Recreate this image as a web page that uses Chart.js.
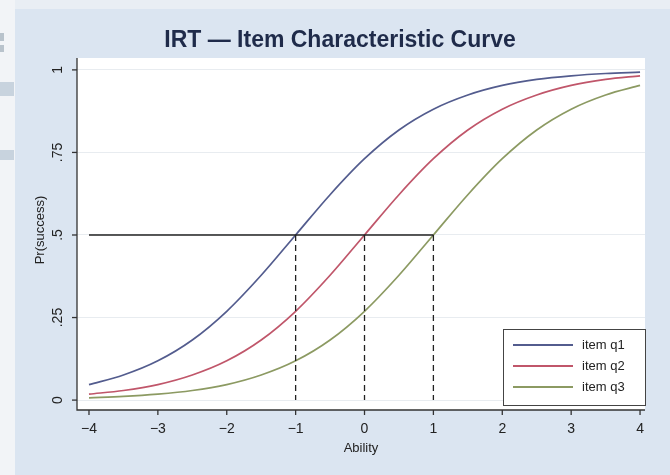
<!DOCTYPE html>
<html><head><meta charset="utf-8">
<script src="https://cdn.jsdelivr.net/npm/chart.js@4/dist/chart.umd.min.js"></script>
<style>html,body{margin:0;padding:0;background:#dbe5f1;}#wrap{width:670px;height:475px;position:relative;}</style>
</head><body><div id="wrap"><canvas id="c" width="670" height="475"></canvas></div>
<script>
const abilities = [-4,-3.5,-3,-2.5,-2,-1.5,-1,-0.5,0,0.5,1,1.5,2,2.5,3,3.5,4];
const itemQ1 = [0.047,0.076,0.119,0.182,0.269,0.378,0.5,0.622,0.731,0.818,0.881,0.924,0.953,0.971,0.982,0.989,0.993];
const itemQ2 = [0.018,0.029,0.047,0.076,0.119,0.182,0.269,0.378,0.5,0.622,0.731,0.818,0.881,0.924,0.953,0.971,0.982];
const itemQ3 = [0.007,0.011,0.018,0.029,0.047,0.076,0.119,0.182,0.269,0.378,0.5,0.622,0.731,0.818,0.881,0.924,0.953];
const seriesNames = ['item q1','item q2','item q3'];
const xTicks = [-4,-3,-2,-1,0,1,2,3,4];
const xTickLabels = ['\u22124','\u22123','\u22122','\u22121','0','1','2','3','4'];
const yTicks = [0,0.25,0.5,0.75,1];
const yTickLabels = ['0','.25','.5','.75','1'];
const difficulties = [-1,0,1];
const refLevel = 0.5;
const titleText = 'IRT \u2014 Item Characteristic Curve';
const xTitle = 'Ability';
const yTitle = 'Pr(success)';

const colors = ['#535c8e','#c0566a','#8c9a62'];
const pts = arr => abilities.map((x,i)=>({x:x,y:arr[i]}));
const FONT = '"Liberation Sans", Arial, sans-serif';

const decor = {
  id:'decor',
  beforeDraw(chart){
    const ctx=chart.ctx, a=chart.chartArea;
    ctx.save();
    ctx.fillStyle='#dbe5f1'; ctx.fillRect(0,0,670,475);
    ctx.fillStyle='#f2f4f7'; ctx.fillRect(0,0,15,475);
    ctx.fillStyle='#b9c3cc'; ctx.fillRect(0,33,4,8); ctx.fillRect(0,45,4,7);
    ctx.fillStyle='#c8d3de'; ctx.fillRect(0,82,14,14); ctx.fillRect(0,150,14,10);
    ctx.fillStyle='#e9eef4'; ctx.fillRect(15,0,655,9);
    ctx.fillStyle='#ffffff'; ctx.fillRect(a.left,a.top,a.right-a.left,a.bottom-a.top);
    ctx.restore();
  },
  afterDatasetsDraw(chart){
    const ctx=chart.ctx, a=chart.chartArea, xs=chart.scales.x, ys=chart.scales.y;
    ctx.save();
    const y5=ys.getPixelForValue(refLevel), y0=ys.getPixelForValue(0);
    ctx.strokeStyle='#222'; ctx.lineWidth=1.6; ctx.setLineDash([]);
    ctx.beginPath(); ctx.moveTo(xs.getPixelForValue(-4),y5); ctx.lineTo(xs.getPixelForValue(Math.max(...difficulties)),y5); ctx.stroke();
    ctx.lineWidth=1.3; ctx.setLineDash([6,4]);
    difficulties.forEach(d=>{const px=xs.getPixelForValue(d);ctx.beginPath();ctx.moveTo(px,y5);ctx.lineTo(px,y0);ctx.stroke();});
    ctx.setLineDash([]);
    ctx.strokeStyle='#333'; ctx.lineWidth=1.3;
    ctx.beginPath(); ctx.moveTo(a.left,a.top); ctx.lineTo(a.left,a.bottom); ctx.lineTo(a.right,a.bottom); ctx.stroke();
    ctx.fillStyle='#222'; ctx.font='14px '+FONT;
    ctx.textAlign='center'; ctx.textBaseline='middle';
    xTicks.forEach((v,i)=>{const px=xs.getPixelForValue(v);
      ctx.beginPath();ctx.moveTo(px,a.bottom);ctx.lineTo(px,a.bottom+5);ctx.stroke();
      ctx.fillText(xTickLabels[i],px,a.bottom+19);});
    ctx.font='13px '+FONT;
    ctx.fillText(xTitle,(a.left+a.right)/2,a.bottom+38);
    ctx.font='14px '+FONT;
    yTicks.forEach((v,i)=>{const py=ys.getPixelForValue(v);
      ctx.beginPath();ctx.moveTo(a.left,py);ctx.lineTo(a.left-5,py);ctx.stroke();
      ctx.save();ctx.translate(a.left-19,py);ctx.rotate(-Math.PI/2);
      ctx.textAlign='center';ctx.textBaseline='middle';ctx.fillText(yTickLabels[i],0,0);ctx.restore();});
    ctx.font='13px '+FONT;
    ctx.save();ctx.translate(40,230);ctx.rotate(-Math.PI/2);
    ctx.textAlign='center';ctx.textBaseline='middle';ctx.fillText(yTitle,0,0);ctx.restore();
    ctx.font='bold 23px '+FONT; ctx.fillStyle='#1f2b4a';
    ctx.textAlign='center'; ctx.textBaseline='middle';
    ctx.fillText(titleText,340,41);
    const lx=503, ly=329, lw=142, lh=76;
    ctx.fillStyle='#fff'; ctx.fillRect(lx,ly,lw,lh);
    ctx.strokeStyle='#444'; ctx.lineWidth=1; ctx.strokeRect(lx+0.5,ly+0.5,lw,lh);
    ctx.font='13px '+FONT; ctx.textAlign='left'; ctx.fillStyle='#222';
    seriesNames.forEach((n,i)=>{const yy=ly+16+i*21;
      ctx.strokeStyle=colors[i]; ctx.lineWidth=2; ctx.beginPath(); ctx.moveTo(lx+10,yy); ctx.lineTo(lx+70,yy); ctx.stroke();
      ctx.fillText(n,lx+79,yy);});
    ctx.restore();
  }
};

new Chart(document.getElementById('c'),{
  type:'line',
  data:{datasets:[
    {label:seriesNames[0],data:pts(itemQ1),borderColor:colors[0],borderWidth:1.7,pointRadius:0,cubicInterpolationMode:'monotone',fill:false},
    {label:seriesNames[1],data:pts(itemQ2),borderColor:colors[1],borderWidth:1.7,pointRadius:0,cubicInterpolationMode:'monotone',fill:false},
    {label:seriesNames[2],data:pts(itemQ3),borderColor:colors[2],borderWidth:1.7,pointRadius:0,cubicInterpolationMode:'monotone',fill:false}
  ]},
  options:{
    responsive:false, animation:false, devicePixelRatio:1,
    layout:{padding:{left:77,right:25,top:58,bottom:65}},
    plugins:{legend:{display:false},title:{display:false},tooltip:{enabled:false}},
    scales:{
      x:{type:'linear',min:-4.174,max:4.072,
        afterBuildTicks:s=>{s.ticks=xTicks.map(v=>({value:v}));},
        ticks:{display:false},grid:{display:false,drawTicks:false},border:{display:false}},
      y:{type:'linear',min:-0.03,max:1.036,
        afterBuildTicks:s=>{s.ticks=yTicks.map(v=>({value:v}));},
        ticks:{display:false},grid:{color:'#e8ecf0',lineWidth:1,drawTicks:false},border:{display:false}}
    }
  },
  plugins:[decor]
});
</script></body></html>
